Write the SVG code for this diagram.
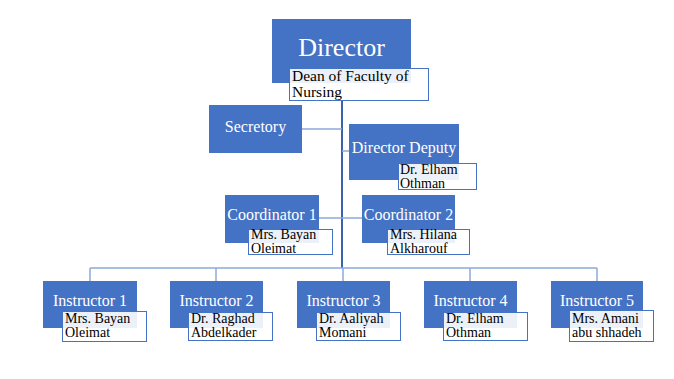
<svg xmlns="http://www.w3.org/2000/svg" width="674" height="379" viewBox="0 0 674 379">
<style>
.box{fill:#4472C4}
.lbl{fill:#ffffff;fill-opacity:0.9;stroke:#4472C4;stroke-width:1}
.bt{font-family:"Liberation Serif","Times New Roman",serif;font-size:16px;fill:#ffffff;text-anchor:middle}
.lt{font-family:"Liberation Serif","Times New Roman",serif;font-size:14px;fill:#000000}
.c{stroke:#8EA9DB;stroke-width:1.5;fill:none}
.cm{stroke:#3A62AE;stroke-width:2;fill:none}
</style>
<rect width="674" height="379" fill="#ffffff"/>
<g id="connectors">
<line class="cm" x1="342" y1="101" x2="342" y2="268"/>
<line class="c" x1="302" y1="129" x2="342" y2="129"/>
<line class="c" x1="342" y1="151" x2="349" y2="151"/>
<line class="c" x1="319" y1="218" x2="362" y2="218"/>
<line class="c" x1="90" y1="268" x2="597" y2="268"/>
<line class="c" x1="90" y1="268" x2="90" y2="281"/>
<line class="c" x1="216" y1="268" x2="216" y2="281"/>
<line class="c" x1="343" y1="268" x2="343" y2="281"/>
<line class="c" x1="470" y1="268" x2="470" y2="281"/>
<line class="c" x1="597" y1="268" x2="597" y2="281"/>
</g>
<g id="director">
<rect class="box" x="272" y="19" width="139" height="64"/>
<text class="bt" x="341.5" y="56" style="font-size:26px">Director</text>
<rect class="lbl" x="289.5" y="68.5" width="139" height="32"/>
<text class="lt" x="292" y="81" style="font-size:15.5px">Dean of Faculty of</text>
<text class="lt" x="292" y="97" style="font-size:15.5px">Nursing</text>
</g>
<g id="secretory">
<rect class="box" x="209" y="105" width="93" height="48"/>
<text class="bt" x="255.5" y="132">Secretory</text>
</g>
<g id="deputy">
<rect class="box" x="349" y="124" width="110" height="56"/>
<text class="bt" x="404" y="153">Director Deputy</text>
<rect class="lbl" x="398.5" y="163.5" width="78" height="26"/>
<text class="lt" x="400" y="174">Dr. Elham</text>
<text class="lt" x="400" y="188">Othman</text>
</g>
<g id="coordinator1">
<rect class="box" x="225" y="195" width="94" height="48"/>
<text class="bt" x="272" y="220">Coordinator 1</text>
<rect class="lbl" x="248.5" y="229.5" width="84" height="25"/>
<text class="lt" x="251" y="239">Mrs. Bayan</text>
<text class="lt" x="251" y="253">Oleimat</text>
</g>
<g id="coordinator2">
<rect class="box" x="362" y="195" width="93" height="48"/>
<text class="bt" x="408.5" y="220">Coordinator 2</text>
<rect class="lbl" x="387.5" y="229.5" width="82" height="25"/>
<text class="lt" x="390" y="239">Mrs. Hilana</text>
<text class="lt" x="390" y="253">Alkharouf</text>
</g>
<g id="instructor1">
<rect class="box" x="43" y="281" width="94" height="47"/>
<text class="bt" x="90" y="306">Instructor 1</text>
<rect class="lbl" x="62.5" y="311.5" width="84" height="30"/>
<text class="lt" x="65" y="323">Mrs. Bayan</text>
<text class="lt" x="65" y="337">Oleimat</text>
</g>
<g id="instructor2">
<rect class="box" x="170" y="281" width="93" height="47"/>
<text class="bt" x="216.5" y="306">Instructor 2</text>
<rect class="lbl" x="188.5" y="312.5" width="84" height="28"/>
<text class="lt" x="191" y="323">Dr. Raghad</text>
<text class="lt" x="191" y="337">Abdelkader</text>
</g>
<g id="instructor3">
<rect class="box" x="297" y="281" width="93" height="47"/>
<text class="bt" x="343.5" y="306">Instructor 3</text>
<rect class="lbl" x="316.5" y="312.5" width="84" height="28"/>
<text class="lt" x="319" y="323">Dr. Aaliyah</text>
<text class="lt" x="319" y="337">Momani</text>
</g>
<g id="instructor4">
<rect class="box" x="424" y="281" width="93" height="47"/>
<text class="bt" x="470.5" y="306">Instructor 4</text>
<rect class="lbl" x="443.5" y="312.5" width="84" height="28"/>
<text class="lt" x="446" y="323">Dr. Elham</text>
<text class="lt" x="446" y="337">Othman</text>
</g>
<g id="instructor5">
<rect class="box" x="551" y="281" width="92" height="47"/>
<text class="bt" x="597" y="306">Instructor 5</text>
<rect class="lbl" x="569.5" y="310.5" width="84" height="31"/>
<text class="lt" x="572" y="323">Mrs. Amani</text>
<text class="lt" x="572" y="337">abu shhadeh</text>
</g>
</svg>
